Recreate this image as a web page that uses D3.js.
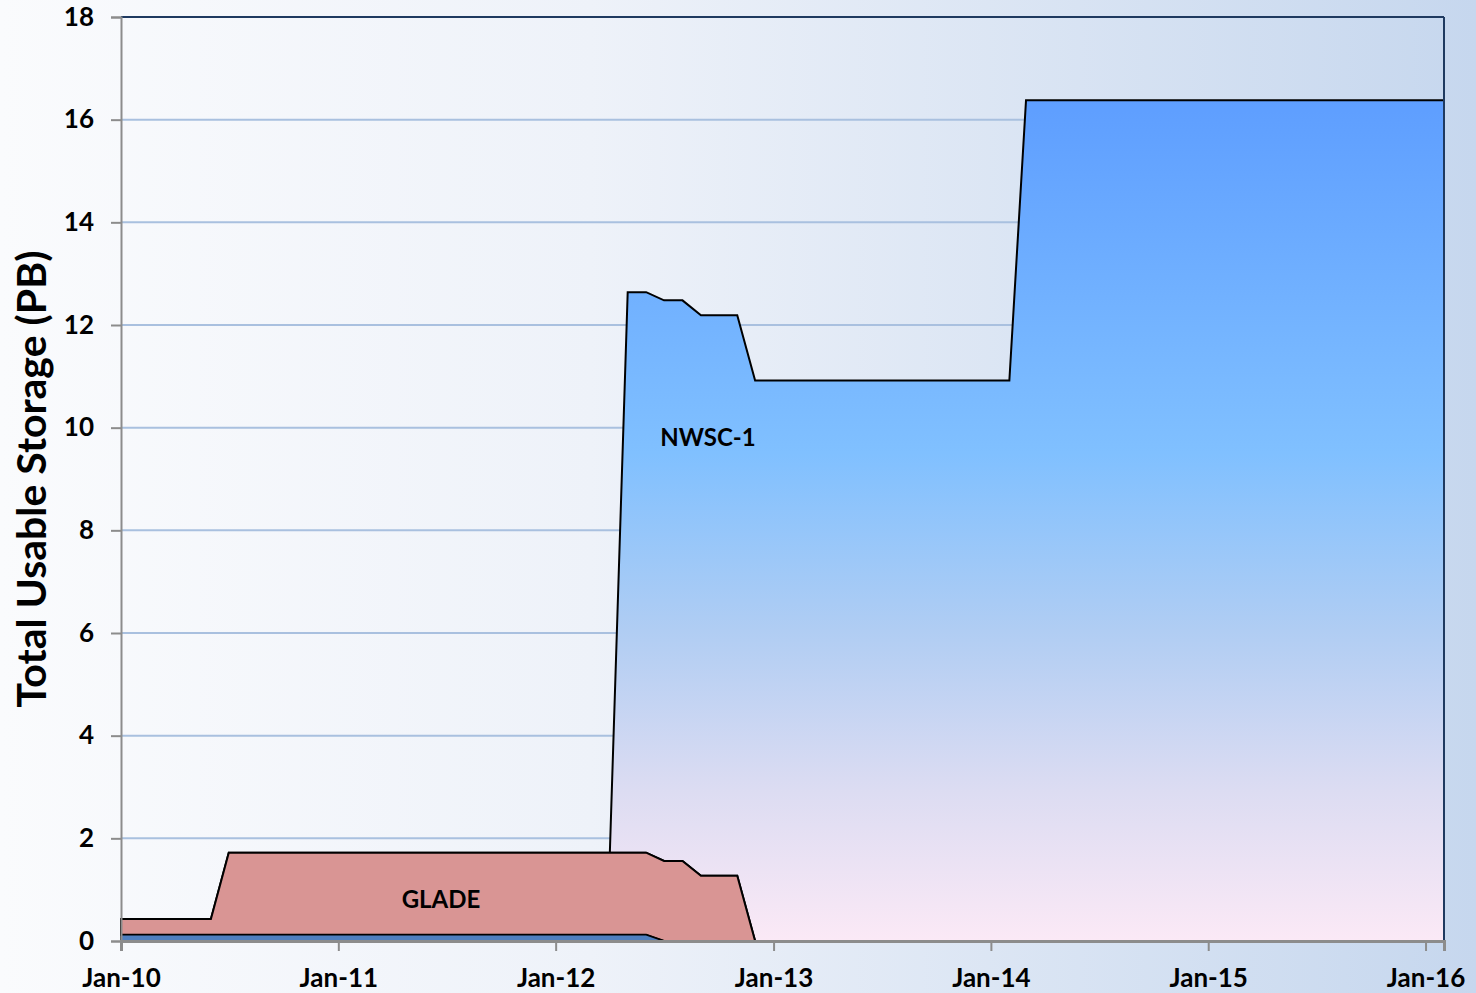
<!DOCTYPE html>
<html>
<head>
<meta charset="utf-8">
<script src="https://cdn.jsdelivr.net/npm/d3@7"></script>
<style>
  html, body { margin: 0; padding: 0; }
  body { width: 1476px; height: 993px; overflow: hidden; }
  text { font-family: Lato, "Open Sans", sans-serif; font-weight: bold; }
</style>
</head>
<body>
<script>
// change points (month starts); values are constant between them
const dates = ["2010-01", "2010-06", "2010-07", "2012-04", "2012-05", "2012-06", "2012-07",
               "2012-08", "2012-09", "2012-11", "2012-12", "2014-02", "2014-03", "2016-02"];
const baseValues  = [0.12, 0.12, 0.12, 0.12, 0.12, 0.12, 0, 0, 0, 0, 0, 0, 0, 0];
const gladeValues = [0.31, 0.31, 1.6, 1.6, 1.6, 1.6, 1.56, 1.56, 1.27, 1.27, 0, 0, 0, 0];
const nwscValues  = [0, 0, 0, 0, 10.92, 10.92, 10.92, 10.92, 10.92, 10.92, 10.92, 10.92, 16.38, 16.38];
const seriesKeys = ["base", "GLADE", "NWSC-1"];
const yTicks = [0, 2, 4, 6, 8, 10, 12, 14, 16, 18];
const xTickLabels = ["Jan-10", "Jan-11", "Jan-12", "Jan-13", "Jan-14", "Jan-15", "Jan-16"];

const width = 1476, height = 993;
const margin = {left: 121, top: 17, right: 32, bottom: 52};
const parse = d3.timeParse("%Y-%m");

const rows = dates.map((d, i) => ({
  date: parse(d),
  "base": baseValues[i],
  "GLADE": gladeValues[i],
  "NWSC-1": nwscValues[i]
}));

const svg = d3.select("body").append("svg")
  .attr("width", width)
  .attr("height", height);
const defs = svg.append("defs");

// page background: light left to pale blue right
const bg = defs.append("linearGradient").attr("id", "bg")
  .attr("x1", 0).attr("x2", 1).attr("y1", 0).attr("y2", 0);
bg.append("stop").attr("offset", "0%").attr("stop-color", "#fafbfd");
bg.append("stop").attr("offset", "40%").attr("stop-color", "#eef2f9");
bg.append("stop").attr("offset", "100%").attr("stop-color", "#c6d7ee");
svg.append("rect").attr("width", width).attr("height", height).attr("fill", "url(#bg)");

const x = d3.scaleTime()
  .domain([parse("2010-01"), parse("2016-02")])
  .range([margin.left, width - margin.right]);
const y = d3.scaleLinear()
  .domain([0, 18])
  .range([height - margin.bottom, margin.top]);

// NWSC fill: vertical blue to pink
const ng = defs.append("linearGradient").attr("id", "nwsc")
  .attr("gradientUnits", "userSpaceOnUse")
  .attr("x1", 0).attr("x2", 0)
  .attr("y1", y(16.38)).attr("y2", y(0));
ng.append("stop").attr("offset", "0%").attr("stop-color", "#5e9eff");
ng.append("stop").attr("offset", "42%").attr("stop-color", "#80c0ff");
ng.append("stop").attr("offset", "63%").attr("stop-color", "#b0cdf3");
ng.append("stop").attr("offset", "82%").attr("stop-color", "#dcdcf2");
ng.append("stop").attr("offset", "100%").attr("stop-color", "#fbe9f6");

// gridlines
svg.append("g")
  .selectAll("line")
  .data(yTicks.filter(d => d > 0 && d < 18))
  .join("line")
  .attr("x1", margin.left).attr("x2", width - margin.right)
  .attr("y1", d => y(d)).attr("y2", d => y(d))
  .attr("stroke", "#a9c0df")
  .attr("stroke-width", 2);

const stack = d3.stack().keys(seriesKeys);
const layers = stack(rows);
const fills = {"base": "#4f7fbf", "GLADE": "#d99594", "NWSC-1": "url(#nwsc)"};

const area = d3.area()
  .x(d => x(d.data.date))
  .y0(d => y(d[0]))
  .y1(d => y(d[1]));

svg.append("g")
  .selectAll("path")
  .data(layers.slice().reverse())
  .join("path")
  .attr("d", area)
  .attr("fill", d => fills[d.key])
  .attr("stroke", "#000")
  .attr("stroke-width", d => d.key === "base" ? 1.5 : 2)
  .attr("stroke-linejoin", "miter");

// frame: top and right dark, left/bottom gray axes
svg.append("line")
  .attr("x1", margin.left).attr("x2", width - margin.right)
  .attr("y1", y(18)).attr("y2", y(18))
  .attr("stroke", "#1f3a60").attr("stroke-width", 2);
svg.append("line")
  .attr("x1", width - margin.right).attr("x2", width - margin.right)
  .attr("y1", y(18)).attr("y2", y(0))
  .attr("stroke", "#1f3a60").attr("stroke-width", 2);

// y axis
const yAxis = svg.append("g")
  .attr("transform", `translate(${margin.left},0)`)
  .call(d3.axisLeft(y).tickValues(yTicks).tickSize(10).tickPadding(17).tickFormat(d3.format("d")));
yAxis.select(".domain").attr("stroke", "#8c8c8c").attr("stroke-width", 2);
yAxis.selectAll(".tick line").attr("stroke", "#8c8c8c").attr("stroke-width", 2);
yAxis.selectAll(".tick text")
  .attr("font-size", 26)
  .attr("fill", "#000")
  .style("font-family", "Lato, sans-serif")
  .style("font-weight", "bold");

// x axis
const xTickDates = xTickLabels.map(s => d3.timeParse("%b-%y")(s));
const xAxis = svg.append("g")
  .attr("transform", `translate(0,${y(0)})`)
  .call(d3.axisBottom(x).tickValues(xTickDates).tickSize(10).tickPadding(18)
    .tickFormat((d, i) => xTickLabels[i]));
xAxis.select(".domain").attr("stroke", "#8c8c8c").attr("stroke-width", 3);
xAxis.selectAll(".tick line").attr("stroke", "#8c8c8c").attr("stroke-width", 2);
xAxis.selectAll(".tick text")
  .attr("font-size", 26)
  .attr("fill", "#000")
  .style("font-family", "Lato, sans-serif")
  .style("font-weight", "bold");

// y title
svg.append("text")
  .attr("transform", `translate(46,${(y(0) + y(18)) / 2}) rotate(-90)`)
  .attr("text-anchor", "middle")
  .attr("font-size", 41)
  .attr("fill", "#000")
  .text("Total Usable Storage (PB)");

// series labels
svg.append("text")
  .attr("x", 708).attr("y", y(9.8))
  .attr("dy", "0.35em")
  .attr("text-anchor", "middle").attr("font-size", 24).attr("fill", "#000")
  .text("NWSC-1");
svg.append("text")
  .attr("x", 441).attr("y", y(0.8))
  .attr("dy", "0.35em")
  .attr("text-anchor", "middle").attr("font-size", 24).attr("fill", "#000")
  .text("GLADE");
</script>
</body>
</html>
